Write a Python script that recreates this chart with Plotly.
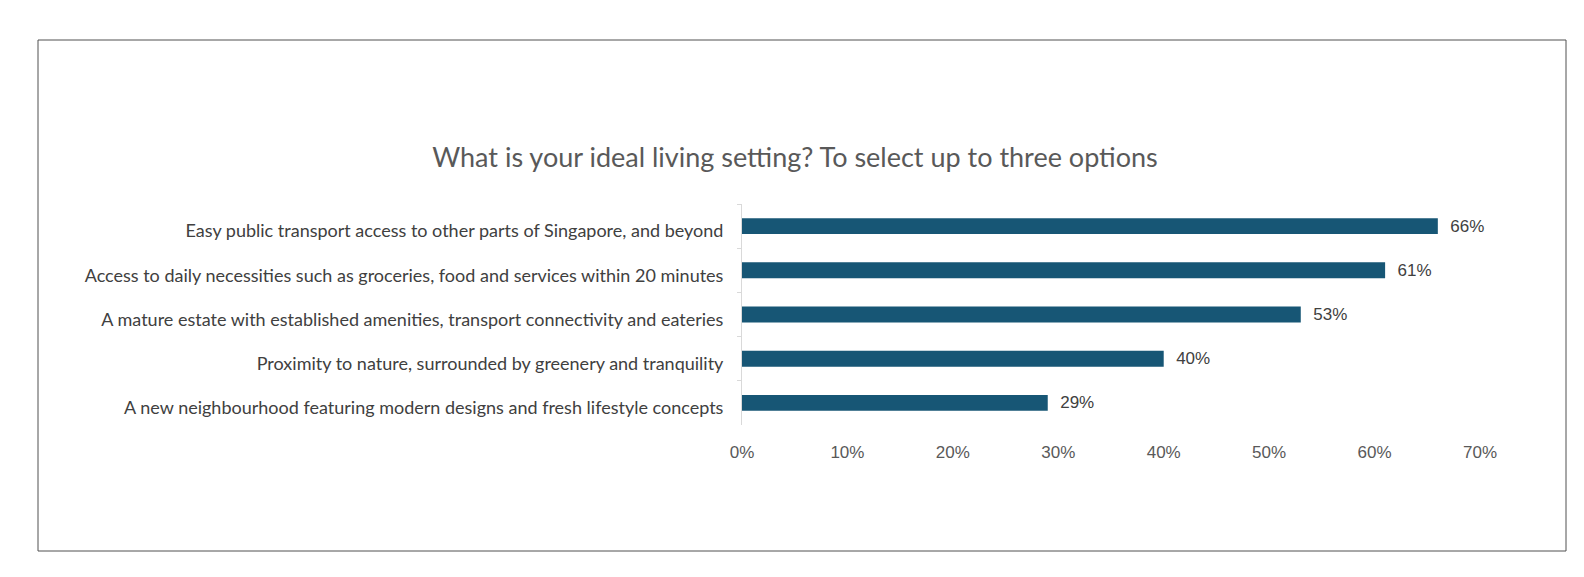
import plotly.graph_objects as go

title = "What is your ideal living setting? To select up to three options"
options = [
    "Easy public transport access to other parts of Singapore, and beyond",
    "Access to daily necessities such as groceries, food and services within 20 minutes",
    "A mature estate with established amenities, transport connectivity and eateries",
    "Proximity to nature, surrounded by greenery and tranquility",
    "A new neighbourhood featuring modern designs and fresh lifestyle concepts",
]
shares = [0.66, 0.61, 0.53, 0.40, 0.29]
share_labels = ["66%", "61%", "53%", "40%", "29%"]
x_ticks = [0, 0.1, 0.2, 0.3, 0.4, 0.5, 0.6, 0.7]
x_tick_labels = ["0%", "10%", "20%", "30%", "40%", "50%", "60%", "70%"]

bar_color = "#175675"

fig = go.Figure(go.Bar(
    x=shares,
    y=options,
    orientation="h",
    marker=dict(color=bar_color, line=dict(width=0)),
    width=0.36,
    text=["  " + s for s in share_labels],
    textposition="outside",
    constraintext="none",
    cliponaxis=False,
    textfont=dict(family="Liberation Sans, Arial", size=17, color="#404040"),
    hoverinfo="skip",
))

fig.update_layout(
    width=1584,
    height=577,
    paper_bgcolor="white",
    plot_bgcolor="white",
    margin=dict(l=734, r=112, t=196, b=160),
    showlegend=False,
    title=dict(
        text=title,
        x=787 / 1584,
        xanchor="center",
        y=1 - 150 / 577,
        yanchor="middle",
        font=dict(family="Lato, Inter, sans-serif", size=27, color="#595959"),
    ),
    xaxis=dict(
        range=[0, 0.7],
        tickvals=x_ticks,
        ticktext=x_tick_labels,
        showgrid=False,
        zeroline=False,
        showline=False,
        ticks="",
        ticklabelstandoff=15,
        tickfont=dict(family="Liberation Sans, Arial", size=17, color="#595959"),
        automargin=False,
    ),
    yaxis=dict(
        autorange="reversed",
        type="category",
        showgrid=False,
        showline=True,
        linecolor="#d9d9d9",
        linewidth=1,
        ticks="outside",
        tickson="boundaries",
        ticklen=4,
        tickcolor="#d9d9d9",
        ticklabelstandoff=14,
        ticklabelshift=-5,
        tickfont=dict(family="Lato, Inter, sans-serif", size=18, color="#404040"),
        automargin=False,
    ),
)

# outer frame around the whole chart
plot_w = 1584 - 734 - 112
plot_h = 577 - 196 - 160
fig.add_shape(
    type="rect",
    xref="paper", yref="paper",
    x0=(30 - 734) / plot_w, x1=(1558 - 734) / plot_w,
    y0=(417 - 543) / plot_h, y1=(417 - 32) / plot_h,
    line=dict(color="#505050", width=1),
    fillcolor="rgba(0,0,0,0)",
    layer="below",
)

fig.write_html("out.html")
